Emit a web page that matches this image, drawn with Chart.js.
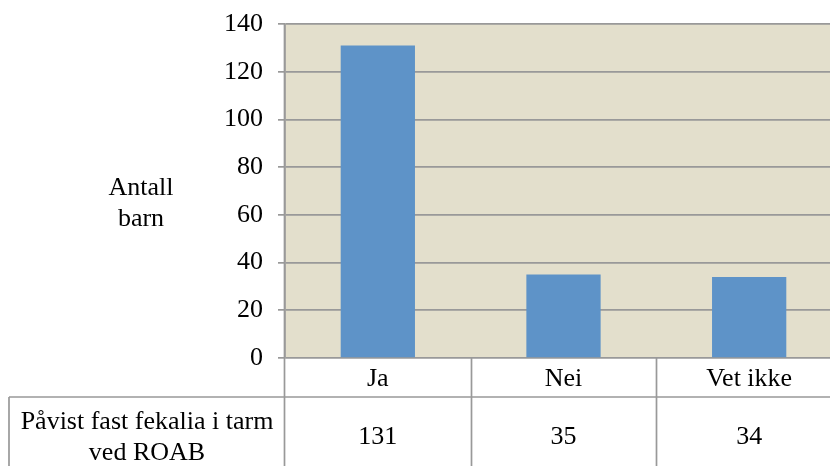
<!DOCTYPE html>
<html>
<head>
<meta charset="utf-8">
<script src="https://cdn.jsdelivr.net/npm/chart.js@4/dist/chart.umd.min.js"></script>
<style>
  html, body { margin: 0; padding: 0; background: #fff; overflow: hidden; }
  #wrap { width: 842px; height: 466px; }
</style>
</head>
<body>
<div id="wrap"><canvas id="barChart" width="842" height="466"></canvas></div>
<script>
// kategorier og antall barn
const kategorier = ['Ja', 'Nei', 'Vet ikke'];
const antallBarn = [131, 35, 34];
const radTekst = ['Påvist fast fekalia i tarm', 'ved ROAB'];
const yTittel = ['Antall', 'barn'];
const yMaks = 140;
const ySteg = 20;

const FONT = '"Liberation Serif", "Times New Roman", serif';
const STR = 26;
const LINJE = '#999999';

// beige bakgrunn i plottområdet
const plotBakgrunn = {
    id: 'plotBakgrunn',
    beforeDraw(chart) {
        const { ctx, chartArea: a } = chart;
        ctx.save();
        ctx.fillStyle = '#E3DFCC';
        ctx.fillRect(a.left, a.top, a.right - a.left, a.bottom - a.top);
        ctx.restore();
    }
};

// datatabell under diagrammet + aksetittel
const dataTabell = {
    id: 'dataTabell',
    afterDraw(chart) {
        const { ctx, chartArea: a } = chart;
        const x = chart.scales.x;
        const bunn = chart.height;
        const radTopp = 397;
        const venstre = 9;
        const bredde = (x.getPixelForValue(1) - x.getPixelForValue(0));

        ctx.save();
        ctx.strokeStyle = LINJE;
        ctx.lineWidth = 1.7;
        ctx.beginPath();
        // venstre akse ned gjennom tabellen
        ctx.moveTo(a.left - 0.5, a.top);
        ctx.lineTo(a.left - 0.5, bunn);
        // kolonneskiller
        for (let i = 1; i <= kategorier.length; i++) {
            const px = Math.round(x.getPixelForValue(i - 1) + bredde / 2) + 0.5;
            ctx.moveTo(px, a.bottom);
            ctx.lineTo(px, bunn);
        }
        // radlinje
        ctx.moveTo(venstre, radTopp);
        ctx.lineTo(chart.width, radTopp);
        // ramme rundt radetikett
        ctx.moveTo(venstre, radTopp);
        ctx.lineTo(venstre, bunn);
        ctx.stroke();

        ctx.fillStyle = '#000';
        ctx.font = STR + 'px ' + FONT;
        ctx.textAlign = 'center';
        ctx.textBaseline = 'middle';
        kategorier.forEach((k, i) => {
            const px = x.getPixelForValue(i);
            ctx.fillText(k, px, 379);
            ctx.fillText(String(antallBarn[i]), px, radTopp + 40);
        });
        const midt = (venstre + a.left) / 2;
        ctx.fillText(radTekst[0], midt, radTopp + 25);
        ctx.fillText(radTekst[1], midt, radTopp + 56);

        ctx.fillText(yTittel[0], 141, 188);
        ctx.fillText(yTittel[1], 141, 219);
        ctx.restore();
    }
};

new Chart(document.getElementById('barChart'), {
    type: 'bar',
    plugins: [plotBakgrunn, dataTabell],
    data: {
        labels: kategorier,
        datasets: [{
            data: antallBarn,
            backgroundColor: '#5E93C8',
            borderWidth: 0,
            barPercentage: 0.4,
            categoryPercentage: 1
        }]
    },
    options: {
        responsive: false,
        animation: false,
        layout: { padding: { top: 24, bottom: 108, left: 0, right: 0 } },
        plugins: {
            legend: { display: false },
            tooltip: { enabled: false }
        },
        scales: {
            x: {
                display: false
            },
            y: {
                min: 0,
                max: yMaks,
                afterFit: (s) => {
                    s.width = 285;
                    s.paddingTop = 0;
                    s.paddingBottom = 0;
                },
                ticks: {
                    stepSize: ySteg,
                    padding: 15,
                    color: '#000',
                    font: { family: FONT, size: STR, lineHeight: 1 }
                },
                grid: {
                    color: LINJE,
                    lineWidth: 1.7,
                    tickLength: 7,
                    tickColor: LINJE
                },
                border: { display: true, color: LINJE, width: 1.7 }
            }
        }
    }
});
</script>
</body>
</html>
